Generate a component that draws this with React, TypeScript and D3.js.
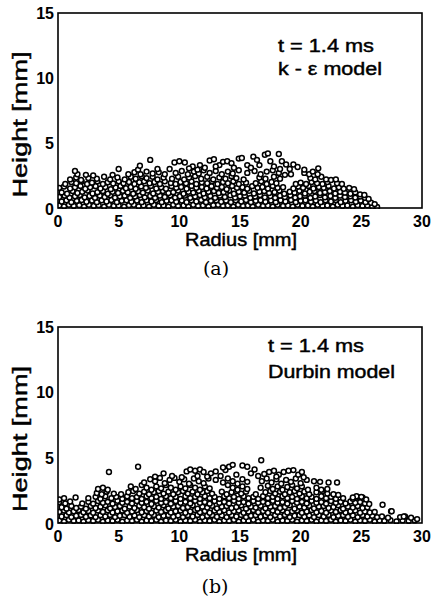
import React from 'react';
import * as d3 from 'd3';

type P = [number, number];

const xTicks = [0, 5, 10, 15, 20, 25, 30];
const yTicks = [0, 5, 10, 15];

// Panel (a): k-epsilon model, particle positions [radius mm, height mm]
const aBand1: P[] = [[0.1,.2],[.5,.12],[.9,.25],[1.3,.15],[1.75,.22],[2.15,.1],[2.55,.25],[2.95,.15],[3.35,.22],[3.8,.1],[4.2,.25],[4.6,.15],[5.0,.2],[5.45,.1],[5.85,.22],[6.25,.25],[6.65,.12],[7.05,.2],[7.5,.1],[7.9,.25],[8.3,.15],[8.7,.2],[9.1,.1],[9.5,.25],[9.9,.15],[10.35,.2],[10.75,.1],[11.15,.25],[11.55,.15],[11.95,.2],[12.4,.1],[12.8,.22],[13.2,.25],[13.6,.15],[14.0,.2],[14.45,.1],[14.85,.25],[15.25,.15],[15.65,.2],[16.05,.1],[16.5,.25],[16.9,.15],[17.3,.2],[17.7,.1],[18.1,.25],[18.55,.15],[18.95,.2],[19.35,.1],[19.75,.25],[20.15,.15],[20.6,.2],[21.0,.1],[21.4,.25],[21.8,.15],[22.2,.2],[22.65,.1],[23.05,.25],[23.45,.15],[23.85,.2],[24.3,.1],[24.7,.22],[25.1,.15],[25.5,.2],[25.9,.1],[26.3,.08]];
const aBand2: P[] = [[.3,.5],[.7,.6],[1.1,.45],[1.55,.55],[1.95,.62],[2.35,.48],[2.8,.58],[3.2,.45],[3.6,.6],[4.0,.5],[4.4,.62],[4.85,.45],[5.25,.55],[5.65,.6],[6.05,.48],[6.5,.58],[6.9,.45],[7.3,.6],[7.7,.5],[8.1,.62],[8.55,.45],[8.95,.55],[9.35,.6],[9.75,.48],[10.2,.58],[10.6,.45],[11.0,.6],[11.4,.5],[11.8,.62],[12.2,.45],[12.6,.55],[13.05,.6],[13.45,.48],[13.85,.58],[14.25,.45],[14.65,.6],[15.1,.5],[15.5,.62],[15.9,.45],[16.3,.55],[16.7,.6],[17.1,.48],[17.55,.58],[17.95,.45],[18.35,.6],[18.75,.5],[19.2,.62],[19.6,.45],[20.0,.55],[20.4,.6],[20.85,.48],[21.25,.58],[21.65,.45],[22.05,.6],[22.5,.5],[22.9,.62],[23.3,.45],[23.7,.55],[24.15,.6],[24.55,.48],[24.95,.58],[25.35,.45],[25.8,.4],[26.1,.3]];
const aBand3: P[] = [[.1,.85],[.55,.95],[.95,.8],[1.4,.9],[1.8,1.0],[2.2,.82],[2.6,.92],[3.05,.78],[3.45,.95],[3.85,.85],[4.3,.98],[4.7,.8],[5.1,.9],[5.5,.95],[5.95,.78],[6.35,.88],[6.75,1.0],[7.15,.82],[7.6,.92],[8.0,.78],[8.4,.95],[8.8,.85],[9.25,.98],[9.65,.8],[10.05,.9],[10.45,.95],[10.9,.78],[11.3,.88],[11.7,1.0],[12.1,.82],[12.55,.92],[12.95,.78],[13.35,.95],[13.75,.85],[14.2,.98],[14.6,.8],[15.0,.9],[15.4,.95],[15.85,.78],[16.25,.88],[16.65,1.0],[17.05,.82],[17.5,.92],[17.9,.78],[18.3,.95],[18.7,.85],[19.15,.98],[19.55,.8],[19.95,.9],[20.35,.95],[20.8,.78],[21.2,.88],[21.6,1.0],[22.0,.82],[22.45,.92],[22.85,.78],[23.25,.95],[23.65,.85],[24.1,.9],[24.5,.8],[24.9,.88],[25.3,.78],[25.6,.7]];
const aBand4: P[] = [[.3,1.2],[.75,1.1],[1.2,1.3],[1.6,1.15],[2.0,1.25],[2.45,1.35],[2.85,1.12],[3.25,1.22],[3.7,1.3],[4.1,1.1],[4.5,1.25],[4.95,1.15],[5.35,1.32],[5.75,1.2],[6.2,1.1],[6.6,1.28],[7.0,1.18],[7.4,1.35],[7.85,1.12],[8.25,1.25],[8.65,1.3],[9.1,1.15],[9.5,1.22],[9.9,1.35],[10.35,1.1],[10.75,1.25],[11.15,1.18],[11.6,1.32],[12.0,1.12],[12.4,1.25],[12.85,1.3],[13.25,1.15],[13.65,1.22],[14.1,1.35],[14.5,1.1],[14.9,1.25],[15.35,1.18],[15.75,1.32],[16.15,1.12],[16.6,1.25],[17.0,1.3],[17.4,1.15],[17.85,1.22],[18.25,1.35],[18.65,1.1],[19.1,1.25],[19.5,1.18],[19.9,1.32],[20.35,1.12],[20.75,1.25],[21.15,1.3],[21.6,1.15],[22.0,1.22],[22.4,1.3],[22.85,1.12],[23.25,1.25],[23.65,1.18],[24.1,1.1],[24.5,1.2],[24.9,1.05],[25.25,1.0]];
const aBand5: P[] = [[.1,1.55],[.5,1.65],[1.0,1.5],[1.4,1.6],[1.85,1.7],[2.25,1.48],[2.65,1.6],[3.1,1.68],[3.5,1.5],[3.9,1.62],[4.35,1.45],[4.75,1.58],[5.15,1.7],[5.6,1.52],[6.0,1.62],[6.4,1.48],[6.85,1.66],[7.25,1.55],[7.65,1.7],[8.1,1.5],[8.5,1.6],[8.9,1.48],[9.35,1.68],[9.75,1.55],[10.15,1.62],[10.6,1.48],[11.0,1.7],[11.4,1.55],[11.85,1.62],[12.25,1.5],[12.65,1.68],[13.1,1.55],[13.5,1.62],[13.9,1.45],[14.35,1.7],[14.75,1.55],[15.2,1.6],[15.6,1.48],[16.0,1.68],[16.45,1.55],[16.85,1.62],[17.3,1.5],[17.7,1.7],[18.1,1.55],[18.55,1.6],[19.4,1.5],[19.8,1.65],[20.2,1.55],[20.65,1.7],[21.05,1.5],[21.5,1.62],[21.9,1.55],[22.3,1.7],[22.75,1.5],[23.15,1.6],[23.55,1.48],[24.0,1.55],[24.4,1.45]];
const aBand6: P[] = [[.6,1.85],[1.1,2.0],[1.5,1.9],[1.95,2.05],[2.4,1.85],[2.8,1.95],[3.25,2.05],[3.7,1.85],[4.1,1.98],[4.55,1.88],[5.0,2.05],[5.4,1.9],[5.85,2.0],[6.3,1.85],[6.7,1.98],[7.1,2.05],[7.55,1.9],[7.95,2.0],[8.4,1.85],[8.8,2.05],[9.3,1.92],[9.7,1.85],[10.1,2.0],[10.55,1.9],[11.0,2.05],[11.4,1.85],[11.85,1.98],[12.3,1.9],[12.7,2.05],[13.15,1.85],[13.6,2.0],[14.0,1.9],[14.45,2.05],[14.9,1.85],[15.5,1.95],[16.3,1.9],[16.75,2.05],[17.2,1.85],[17.6,2.0],[18.0,1.9],[19.6,1.85],[20.0,1.95],[20.45,1.85],[20.9,2.0],[21.35,1.9],[21.8,1.85],[22.2,2.0],[23.0,1.9],[23.4,1.85]];
const aBand7: P[] = [[1.0,2.2],[1.5,2.35],[1.9,2.15],[2.5,2.3],[3.2,2.25],[3.8,2.4],[4.3,2.2],[4.9,2.35],[5.5,2.2],[6.0,2.4],[6.4,2.25],[6.9,2.45],[7.3,2.3],[7.8,2.4],[8.2,2.2],[8.7,2.35],[9.4,2.25],[9.9,2.4],[10.4,2.2],[10.8,2.35],[11.3,2.45],[11.8,2.25],[12.3,2.4],[12.8,2.2],[13.3,2.35],[13.8,2.25],[14.3,2.45],[14.7,2.3],[15.3,2.2],[16.6,2.35],[17.1,2.25],[17.8,2.4],[18.3,2.25],[20.8,2.3],[21.2,2.2],[21.7,2.4],[22.1,2.2],[22.5,2.15],[22.9,2.2]];
const aBand8: P[] = [[1.6,2.6],[2.3,2.55],[2.9,2.5],[4.5,2.55],[5.8,2.6],[6.3,2.75],[6.8,2.6],[7.3,2.8],[7.8,2.65],[8.3,2.75],[8.8,2.6],[9.7,2.7],[10.2,2.85],[10.7,2.6],[11.2,2.8],[11.6,2.65],[12.0,2.9],[12.5,2.7],[13.0,2.85],[13.5,2.6],[14.0,2.8],[14.4,2.65],[14.9,2.9],[15.6,2.7],[16.2,2.85],[16.7,2.6],[17.2,2.8],[17.7,2.9],[18.2,2.7],[18.7,2.55],[19.2,2.6],[20.3,2.7],[20.7,2.6],[21.4,2.6],[21.0,2.8]];
const aUpper: P[] = [[1.4,2.85],[5.0,3.0],[6.6,2.95],[6.75,3.25],[7.6,3.7],[8.2,3.0],[9.6,3.5],[10.0,3.6],[10.45,3.5],[11.1,3.2],[11.7,3.3],[12.1,3.1],[12.5,3.65],[12.85,3.75],[13.3,3.3],[13.6,3.55],[13.95,3.6],[14.3,3.45],[14.9,3.8],[15.15,3.85],[15.6,3.3],[16.1,3.95],[16.4,3.7],[16.6,3.3],[17.05,4.1],[17.3,4.2],[17.5,3.6],[17.8,3.2],[18.2,4.15],[18.45,3.6],[18.3,3.0],[18.8,3.35],[19.4,3.35],[19.75,3.15],[19.1,3.0],[20.3,2.95],[21.45,3.05],[15.9,3.1],[14.5,3.1],[13.0,3.2],[11.5,2.95],[9.2,3.0],[10.8,3.05]];

// Panel (b): Durbin model
const bBand1: P[] = [[.1,.2],[.5,.1],[.9,.25],[1.3,.15],[1.7,.2],[2.1,.1],[2.5,.22],[2.9,.15],[3.3,.25],[3.7,.1],[4.1,.2],[4.5,.15],[4.9,.25],[5.3,.1],[5.7,.2],[6.1,.15],[6.5,.25],[6.9,.1],[7.3,.2],[7.7,.15],[8.1,.25],[8.5,.1],[8.9,.2],[9.3,.15],[9.7,.25],[10.1,.1],[10.5,.2],[10.9,.15],[11.3,.25],[11.7,.1],[12.1,.2],[12.5,.15],[12.9,.25],[13.3,.1],[13.7,.2],[14.1,.15],[14.5,.25],[14.9,.1],[15.3,.2],[15.7,.15],[16.1,.25],[16.5,.1],[16.9,.2],[17.3,.15],[17.7,.25],[18.1,.1],[18.5,.2],[18.9,.15],[19.3,.25],[19.7,.1],[20.1,.2],[20.5,.15],[20.9,.25],[21.3,.1],[21.7,.2],[22.1,.15],[22.5,.25],[22.9,.1],[23.3,.2],[23.7,.15],[24.1,.25],[24.5,.1],[24.9,.2],[25.3,.15],[25.7,.25],[26.1,.1],[26.5,.2],[26.9,.15],[27.4,.22],[27.9,.12],[28.4,.2],[28.9,.15],[29.4,.2]];
const bBand2: P[] = [[.3,.5],[.7,.6],[1.1,.45],[1.5,.55],[1.9,.62],[2.3,.48],[2.7,.58],[3.1,.45],[3.5,.6],[3.9,.5],[4.3,.62],[4.7,.45],[5.1,.55],[5.5,.6],[5.9,.48],[6.3,.58],[6.7,.45],[7.1,.6],[7.5,.5],[7.9,.62],[8.3,.45],[8.7,.55],[9.1,.6],[9.5,.48],[9.9,.58],[10.3,.45],[10.7,.6],[11.1,.5],[11.5,.62],[11.9,.45],[12.3,.55],[12.7,.6],[13.1,.48],[13.5,.58],[13.9,.45],[14.3,.6],[14.7,.5],[15.1,.62],[15.5,.45],[15.9,.55],[16.3,.6],[16.7,.48],[17.1,.58],[17.5,.45],[17.9,.6],[18.3,.5],[18.7,.62],[19.1,.45],[19.5,.55],[19.9,.6],[20.3,.48],[20.7,.58],[21.1,.45],[21.5,.6],[21.9,.5],[22.3,.62],[22.7,.45],[23.1,.55],[23.5,.6],[23.9,.48],[24.3,.58],[24.7,.45],[25.1,.6],[25.5,.5],[25.9,.55],[26.3,.45],[26.7,.5],[27.2,.4],[28.2,.45],[28.6,.5],[29.1,.4]];
const bBand3: P[] = [[.1,.85],[.5,.95],[.9,.8],[1.3,.9],[1.7,1.0],[2.1,.82],[2.5,.92],[2.9,.78],[3.3,.95],[3.7,.85],[4.1,.98],[4.5,.8],[4.9,.9],[5.3,.95],[5.7,.78],[6.1,.88],[6.5,1.0],[6.9,.82],[7.3,.92],[7.7,.78],[8.1,.95],[8.5,.85],[8.9,.98],[9.3,.8],[9.7,.9],[10.1,.95],[10.5,.78],[10.9,.88],[11.3,1.0],[11.7,.82],[12.1,.92],[12.5,.78],[12.9,.95],[13.3,.85],[13.7,.98],[14.1,.8],[14.5,.9],[14.9,.95],[15.3,.78],[15.7,.88],[16.1,1.0],[16.5,.82],[16.9,.92],[17.3,.78],[17.7,.95],[18.1,.85],[18.5,.98],[18.9,.8],[19.3,.9],[19.7,.95],[20.1,.78],[20.5,.88],[20.9,1.0],[21.3,.82],[21.7,.92],[22.1,.78],[22.5,.95],[22.9,.85],[23.3,.98],[23.7,.8],[24.1,.9],[24.5,.95],[24.9,.78],[25.3,.88],[25.7,.8],[26.1,.85],[27.45,.9]];
const bBand4: P[] = [[.3,1.2],[.7,1.1],[1.1,1.3],[1.5,1.15],[1.9,1.25],[2.3,1.1],[2.7,1.3],[3.1,1.15],[3.5,1.25],[3.9,1.35],[4.3,1.12],[4.7,1.22],[5.1,1.3],[5.5,1.1],[5.9,1.25],[6.3,1.15],[6.7,1.32],[7.1,1.2],[7.5,1.1],[7.9,1.28],[8.3,1.18],[8.7,1.35],[9.1,1.12],[9.5,1.25],[9.9,1.3],[10.3,1.15],[10.7,1.22],[11.1,1.35],[11.5,1.1],[11.9,1.25],[12.3,1.18],[12.7,1.32],[13.1,1.12],[13.5,1.25],[13.9,1.3],[14.3,1.15],[14.7,1.22],[15.1,1.35],[15.5,1.1],[15.9,1.25],[16.3,1.18],[16.7,1.32],[17.1,1.12],[17.5,1.25],[17.9,1.3],[18.3,1.15],[18.7,1.22],[19.1,1.35],[19.5,1.1],[19.9,1.25],[20.3,1.18],[20.7,1.32],[21.1,1.12],[21.5,1.25],[21.9,1.3],[22.3,1.15],[22.7,1.22],[23.1,1.35],[23.5,1.1],[23.9,1.25],[24.3,1.18],[24.7,1.3],[25.1,1.15],[25.5,1.2],[26.75,1.4]];
const bBand5: P[] = [[.1,1.6],[.6,1.5],[1.0,1.65],[1.45,1.95],[2.0,1.5],[2.5,1.62],[2.9,1.48],[3.3,1.68],[3.7,1.55],[4.1,1.62],[4.5,1.48],[4.9,1.7],[5.3,1.55],[5.7,1.62],[6.1,1.5],[6.5,1.68],[6.9,1.55],[7.3,1.62],[7.7,1.45],[8.1,1.7],[8.5,1.55],[8.9,1.6],[9.3,1.48],[9.7,1.68],[10.1,1.55],[10.5,1.62],[10.9,1.5],[11.3,1.7],[11.7,1.55],[12.1,1.6],[12.5,1.48],[12.9,1.68],[13.3,1.55],[13.7,1.62],[14.1,1.5],[14.5,1.7],[14.9,1.55],[15.3,1.6],[15.7,1.48],[16.1,1.68],[16.5,1.55],[16.9,1.62],[17.3,1.5],[17.7,1.7],[18.1,1.55],[18.5,1.6],[18.9,1.48],[19.3,1.68],[19.7,1.55],[20.1,1.62],[20.5,1.5],[20.9,1.7],[21.3,1.55],[21.7,1.6],[22.1,1.48],[22.5,1.68],[22.9,1.55],[23.3,1.62],[23.7,1.5],[24.1,1.65],[24.5,1.55],[24.9,1.6],[25.3,1.5],[25.65,1.45]];
const bBand6: P[] = [[.1,1.8],[.5,1.9],[2.5,1.9],[3.1,2.0],[3.5,1.85],[3.9,2.05],[4.4,1.9],[4.8,2.0],[5.3,1.85],[5.7,2.05],[6.1,1.9],[6.5,2.0],[6.9,1.85],[7.3,2.05],[7.7,1.9],[8.1,2.0],[8.5,1.85],[8.9,2.05],[9.3,1.9],[9.7,2.0],[10.1,1.85],[10.5,2.05],[10.9,1.9],[11.3,2.0],[11.7,1.85],[12.1,2.05],[12.5,1.9],[12.9,2.0],[13.3,1.85],[13.7,2.05],[14.1,1.9],[14.5,2.0],[14.9,1.85],[15.3,2.05],[15.7,1.9],[16.1,2.0],[16.5,1.85],[16.9,2.05],[17.3,1.9],[17.7,2.0],[18.1,1.85],[18.5,2.05],[18.9,1.9],[19.3,2.0],[19.7,1.85],[20.1,2.05],[20.5,1.9],[20.9,2.0],[21.3,1.85],[21.7,2.05],[22.1,1.9],[22.5,2.0],[22.9,1.85],[23.5,1.9],[24.3,1.85],[24.7,2.0],[25.1,1.95],[25.4,1.8]];
const bBand7: P[] = [[3.2,2.3],[3.6,2.2],[4.0,2.4],[4.6,2.25],[5.2,2.2],[5.8,2.35],[6.2,2.45],[6.7,2.25],[7.1,2.4],[7.5,2.2],[7.9,2.35],[8.3,2.45],[8.7,2.25],[9.1,2.4],[9.5,2.2],[9.9,2.35],[10.3,2.45],[10.7,2.25],[11.1,2.4],[11.5,2.2],[11.9,2.35],[12.3,2.45],[12.7,2.25],[13.5,2.4],[13.9,2.2],[14.3,2.35],[14.7,2.45],[15.1,2.25],[15.5,2.4],[16.3,2.2],[17.1,2.35],[17.5,2.45],[17.9,2.25],[18.3,2.4],[18.7,2.2],[19.1,2.35],[19.5,2.45],[19.9,2.25],[20.3,2.4],[20.7,2.2],[21.3,2.35],[21.8,2.45],[22.2,2.25],[22.7,2.2],[23.1,2.15],[24.6,2.05],[25.0,2.0]];
const bBand8: P[] = [[3.3,2.6],[3.7,2.7],[4.1,2.55],[6.0,2.8],[6.4,2.6],[6.9,2.9],[7.3,2.7],[7.7,2.55],[8.1,2.8],[8.5,2.65],[8.9,2.9],[9.3,2.7],[9.7,2.55],[10.1,2.8],[10.5,2.65],[10.9,2.9],[11.3,2.7],[11.7,2.55],[12.1,2.8],[12.5,2.65],[14.0,2.9],[14.4,2.7],[14.8,2.55],[15.2,2.8],[15.6,2.6],[16.7,2.7],[17.3,2.85],[17.7,2.6],[18.1,2.8],[18.5,2.55],[18.9,2.75],[19.3,2.9],[19.7,2.65],[20.1,2.8],[20.6,2.55],[21.3,2.7],[21.7,2.55],[22.2,2.6]];
const bBand9: P[] = [[7.1,3.1],[7.6,3.35],[8.0,3.2],[8.4,3.45],[8.8,3.05],[9.2,3.3],[9.6,3.45],[10.0,3.15],[10.4,3.35],[10.8,3.0],[11.2,3.4],[11.6,3.2],[12.0,3.05],[12.4,3.4],[13.0,3.3],[13.6,3.1],[14.0,3.4],[14.4,3.2],[14.8,3.0],[15.2,3.35],[15.6,3.15],[16.8,3.2],[17.2,3.4],[17.6,3.1],[18.0,3.35],[18.4,3.0],[18.8,3.3],[19.2,3.15],[19.6,3.4],[20.0,3.05],[20.5,3.3],[21.1,3.2],[21.6,3.15],[22.3,3.1]];
const bBand10: P[] = [[8.0,3.55],[8.7,3.8],[9.4,3.6],[10.2,3.5],[10.6,3.95],[10.9,4.1],[11.3,4.0],[11.7,4.1],[12.0,3.9],[11.5,3.6],[12.6,3.8],[13.0,3.95],[13.4,3.6],[13.8,4.05],[14.1,4.3],[14.4,4.45],[13.6,4.25],[14.7,3.7],[15.2,4.4],[15.6,4.3],[15.9,3.8],[16.2,4.1],[16.75,4.8],[17.0,3.75],[17.4,3.9],[17.8,4.0],[18.2,3.7],[18.6,3.9],[19.0,4.0],[19.4,4.05],[19.8,3.7],[20.1,3.9],[20.25,3.5],[18.0,3.55],[16.5,3.6],[12.3,3.55]];
const bUpper: P[] = [[4.2,3.9],[6.6,4.3],[23.0,3.1],[24.3,1.95],[27.5,0.9],[28.5,0.5],[29.6,0.3]];

const panelAPoints: P[] = [aBand1, aBand2, aBand3, aBand4, aBand5, aBand6, aBand7, aBand8, aUpper].flat();
const panelBPoints: P[] = [bBand1, bBand2, bBand3, bBand4, bBand5, bBand6, bBand7, bBand8, bBand9, bBand10, bUpper].flat();

const SANS = "'Liberation Sans', Arial, sans-serif";

function Panel(props: { top: number; bottom: number; pts: P[]; id: string; line1: string; line2: string; tx: number; ty1: number; ty2: number; w2: number }) {
  const { top, bottom, pts, id, line1, line2, tx, ty1, ty2, w2 } = props;
  const left = 58, right = 422;
  const x = d3.scaleLinear().domain([0, 30]).range([left, right]);
  const y = d3.scaleLinear().domain([0, 15]).range([bottom, top]);
  const txt = { fontFamily: SANS, stroke: '#000', strokeWidth: 0.45 } as const;
  return (
    <g>
      <defs>
        <clipPath id={id}>
          <rect x={left} y={top} width={right - left} height={bottom - top + 1} />
        </clipPath>
      </defs>
      <g clipPath={`url(#${id})`}>
        {pts.map((p, i) => (
          <circle key={i} cx={x(p[0])} cy={y(p[1])} r={2.45} fill="#fff" stroke="#000" strokeWidth={1.5} />
        ))}
      </g>
      <rect x={left} y={top} width={right - left} height={bottom - top} fill="none" stroke="#000" strokeWidth={1.6} />
      {yTicks.map((t) => (
        <text key={'y' + t} x={left - 4} y={y(t) + (t === 0 ? 7 : 6)} textAnchor="end" fontFamily={SANS} fontWeight="bold" fontSize={16}>{t}</text>
      ))}
      {xTicks.map((t) => (
        <text key={'x' + t} x={x(t)} y={bottom + 19} textAnchor="middle" fontFamily={SANS} fontWeight="bold" fontSize={16}>{t}</text>
      ))}
      <text x={241} y={bottom + 38} textAnchor="middle" fontSize={18} textLength={112} lengthAdjust="spacingAndGlyphs" {...txt}>Radius [mm]</text>
      <text transform={`translate(27,${(top + bottom) / 2 + 14}) rotate(-90)`} textAnchor="middle" fontSize={20} textLength={146} lengthAdjust="spacingAndGlyphs" {...txt}>Height [mm]</text>
      <text x={tx} y={ty1} fontSize={18} textLength={96} lengthAdjust="spacingAndGlyphs" {...txt}>{line1}</text>
      <text x={tx} y={ty2} fontSize={18} textLength={w2} lengthAdjust="spacingAndGlyphs" {...txt}>{line2}</text>
    </g>
  );
}

export default function App() {
  return (
    <svg width={432} height={607} viewBox="0 0 432 607" style={{ display: 'block', position: 'absolute', left: 0, top: 0, background: '#fff' }}>
      <rect width={432} height={607} fill="#fff" />
      <Panel top={13} bottom={208} pts={panelAPoints} id="clipA" line1="t = 1.4 ms" line2="k - ε model" tx={278} ty1={52} ty2={75} w2={104} />
      <text x={216} y={275} textAnchor="middle" fontFamily="'DejaVu Serif', serif" fontSize={19}>(a)</text>
      <Panel top={327} bottom={523} pts={panelBPoints} id="clipB" line1="t = 1.4 ms" line2="Durbin model" tx={268} ty1={352} ty2={378} w2={127} />
      <text x={215} y={593} textAnchor="middle" fontFamily="'DejaVu Serif', serif" fontSize={19}>(b)</text>
    </svg>
  );
}
